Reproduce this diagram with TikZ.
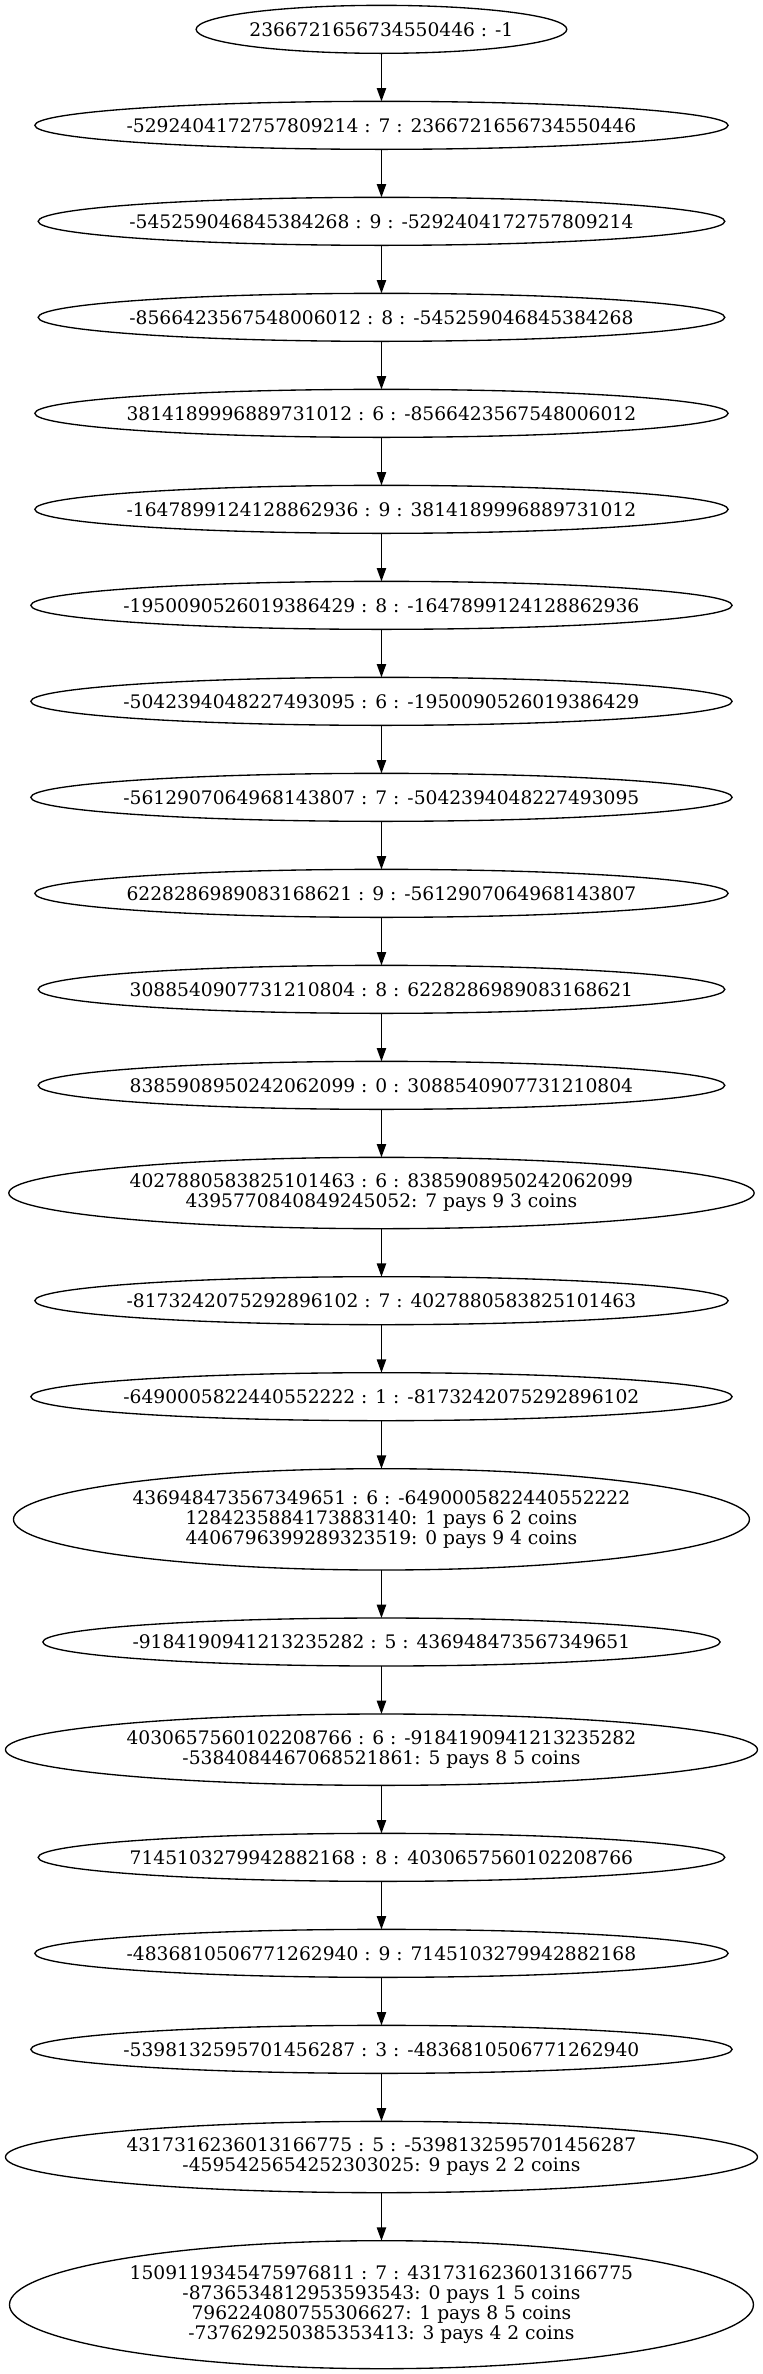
\documentclass[tikz,border=0pt]{standalone}
\usepackage{fontspec}
\setmainfont{DejaVu Serif}
\usetikzlibrary{shapes.geometric, positioning, arrows.meta}

\begin{document}
\begin{tikzpicture}[
  block/.style={ellipse, draw, line width=1.0, minimum height=36pt, inner xsep=-60pt, inner ysep=0pt, outer sep=0pt, align=center, font={\fontsize{14}{15}\selectfont}},
  link/.style={-{Triangle[length=10pt, width=7pt]}, line width=1.0},
  node distance=36pt
]
\useasboundingbox (0,0) rectangle (572.25pt,-1780.5pt);

\node[block, minimum width=278pt] (n1) at (286.1pt,-22pt) {2366721656734550446 : -1};
\node[block, minimum width=520pt, below=of n1] (n2) {-5292404172757809214 : 7 : 2366721656734550446};
\node[block, minimum width=515pt, below=of n2] (n3) {-545259046845384268 : 9 : -5292404172757809214};
\node[block, minimum width=515pt, below=of n3] (n4) {-8566423567548006012 : 8 : -545259046845384268};
\node[block, minimum width=520pt, below=of n4] (n5) {3814189996889731012 : 6 : -8566423567548006012};
\node[block, minimum width=520pt, below=of n5] (n6) {-1647899124128862936 : 9 : 3814189996889731012};
\node[block, minimum width=526pt, below=of n6] (n7) {-1950090526019386429 : 8 : -1647899124128862936};
\node[block, minimum width=526pt, below=of n7] (n8) {-5042394048227493095 : 6 : -1950090526019386429};
\node[block, minimum width=526pt, below=of n8] (n9) {-5612907064968143807 : 7 : -5042394048227493095};
\node[block, minimum width=520pt, below=of n9] (n10) {6228286989083168621 : 9 : -5612907064968143807};
\node[block, minimum width=515pt, below=of n10] (n11) {3088540907731210804 : 8 : 6228286989083168621};
\node[block, minimum width=515pt, below=of n11] (n12) {8385908950242062099 : 0 : 3088540907731210804};
\node[block, minimum width=559pt, minimum height=53.5pt, below=of n12] (n13) {4027880583825101463 : 6 : 8385908950242062099\\4395770840849245052: 7 pays 9 3 coins};
\node[block, minimum width=520pt, below=of n13] (n14) {-8173242075292896102 : 7 : 4027880583825101463};
\node[block, minimum width=526pt, below=of n14] (n15) {-6490005822440552222 : 1 : -8173242075292896102};
\node[block, minimum width=552pt, minimum height=76pt, below=of n15] (n16) {436948473567349651 : 6 : -6490005822440552222\\1284235884173883140: 1 pays 6 2 coins\\4406796399289323519: 0 pays 9 4 coins};
\node[block, minimum width=508pt, below=of n16] (n17) {-9184190941213235282 : 5 : 436948473567349651};
\node[block, minimum width=564pt, minimum height=53.5pt, below=of n17] (n18) {4030657560102208766 : 6 : -9184190941213235282\\-5384084467068521861: 5 pays 8 5 coins};
\node[block, minimum width=515pt, below=of n18] (n19) {7145103279942882168 : 8 : 4030657560102208766};
\node[block, minimum width=520pt, below=of n19] (n20) {-4836810506771262940 : 9 : 7145103279942882168};
\node[block, minimum width=526pt, below=of n20] (n21) {-5398132595701456287 : 3 : -4836810506771262940};
\node[block, minimum width=564pt, minimum height=53.5pt, below=of n21] (n22) {4317316236013166775 : 5 : -5398132595701456287\\-4595425654252303025: 9 pays 2 2 coins};
\node[block, minimum width=558pt, minimum height=96pt, below=of n22] (n23) {1509119345475976811 : 7 : 4317316236013166775\\-8736534812953593543: 0 pays 1 5 coins\\796224080755306627: 1 pays 8 5 coins\\-737629250385353413: 3 pays 4 2 coins};

\draw[link] (n1) -- (n2);
\draw[link] (n2) -- (n3);
\draw[link] (n3) -- (n4);
\draw[link] (n4) -- (n5);
\draw[link] (n5) -- (n6);
\draw[link] (n6) -- (n7);
\draw[link] (n7) -- (n8);
\draw[link] (n8) -- (n9);
\draw[link] (n9) -- (n10);
\draw[link] (n10) -- (n11);
\draw[link] (n11) -- (n12);
\draw[link] (n12) -- (n13);
\draw[link] (n13) -- (n14);
\draw[link] (n14) -- (n15);
\draw[link] (n15) -- (n16);
\draw[link] (n16) -- (n17);
\draw[link] (n17) -- (n18);
\draw[link] (n18) -- (n19);
\draw[link] (n19) -- (n20);
\draw[link] (n20) -- (n21);
\draw[link] (n21) -- (n22);
\draw[link] (n22) -- (n23);
\end{tikzpicture}
\end{document}
